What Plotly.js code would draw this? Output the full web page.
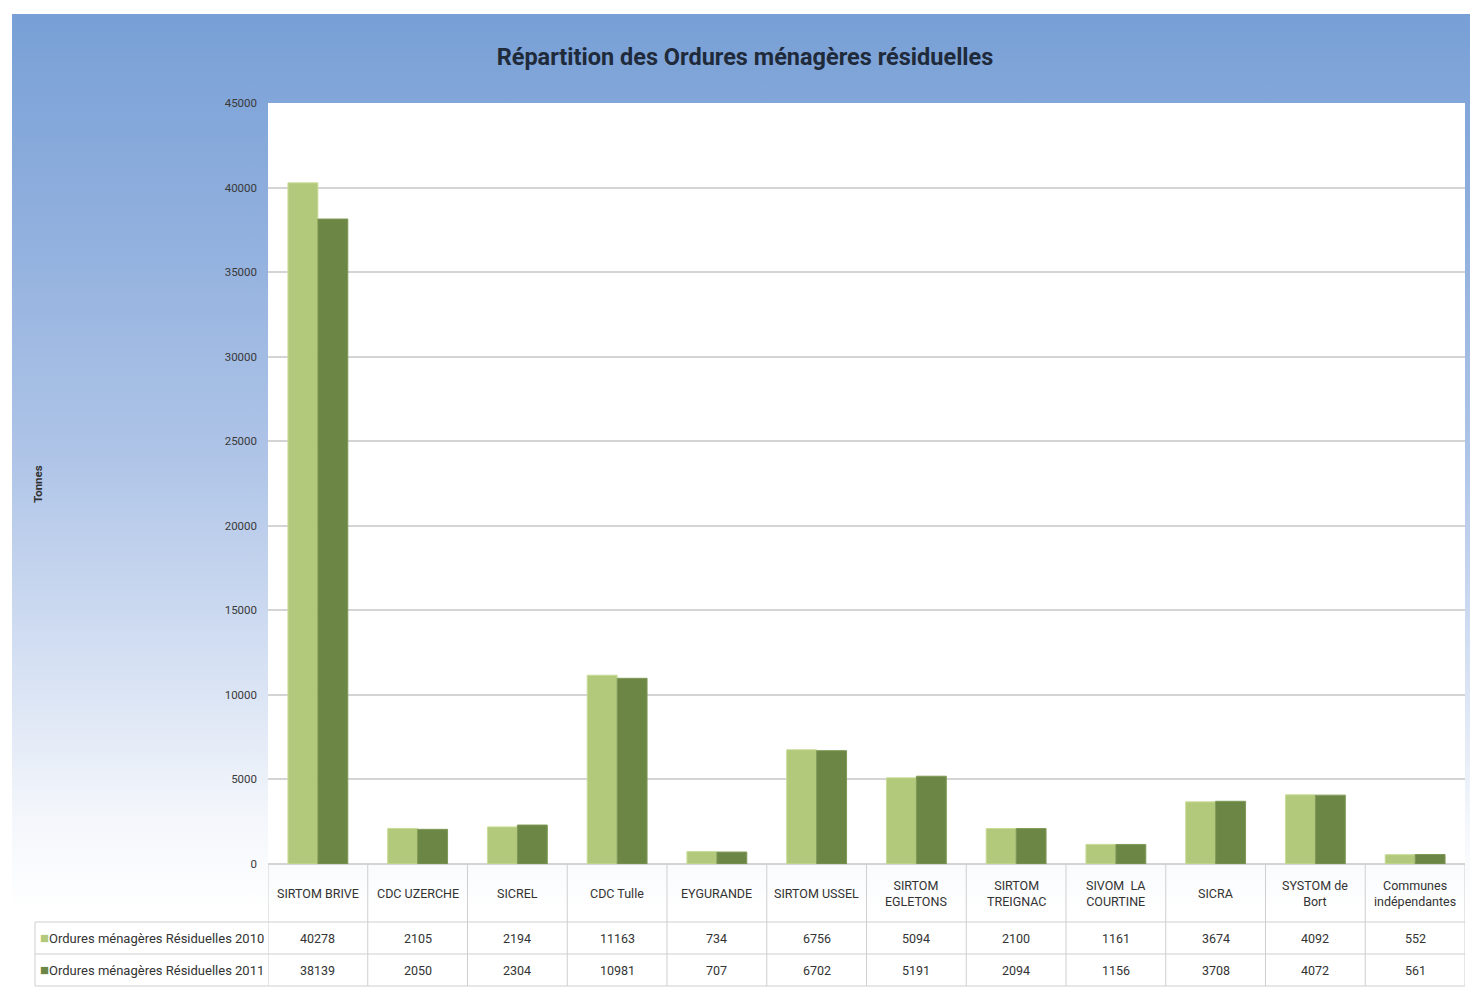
<!DOCTYPE html>
<html>
<head>
<meta charset="utf-8">
<script src="https://cdn.plot.ly/plotly-3.0.1.min.js"></script>
<style>
  body { margin: 0; background: #fff; }
  #chart {
    width: 1470px; height: 990px;
    background: linear-gradient(to bottom, #78a0d6 0%, #8eaedd 20%, #aec4e7 45%, #d2def2 65%, #f3f6fb 82%, #ffffff 92%) 12px 14px / 1458px 976px no-repeat, #fff;
  }
</style>
</head>
<body>
<div id="chart"></div>
<script>
const categories = ['SIRTOM BRIVE', 'CDC UZERCHE', 'SICREL', 'CDC Tulle', 'EYGURANDE', 'SIRTOM USSEL',
                    'SIRTOM<br>EGLETONS', 'SIRTOM<br>TREIGNAC', 'SIVOM  LA<br>COURTINE', 'SICRA', 'SYSTOM de<br>Bort', 'Communes<br>indépendantes'];
const omr2010 = [40278, 2105, 2194, 11163, 734, 6756, 5094, 2100, 1161, 3674, 4092, 552];
const omr2011 = [38139, 2050, 2304, 10981, 707, 6702, 5191, 2094, 1156, 3708, 4072, 561];
const seriesNames = ['Ordures ménagères Résiduelles 2010', 'Ordures ménagères Résiduelles 2011'];
const yTicks = [0, 5000, 10000, 15000, 20000, 25000, 30000, 35000, 40000, 45000];

const C_LIGHT = '#b2c97b';
const C_DARK  = '#6c8745';
const GRID    = '#d4d4d4';
const FONT    = 'Roboto, Liberation Sans Narrow, sans-serif';

// pixel helpers for the plot area (268..1465 x 103..864)
const PL = 268, PR = 1465, PT = 103, PB = 864;
const py = p => (PB - p) / (PB - PT);
const px = p => (p - PL) / (PR - PL);

const idx = categories.map((_, i) => i);

const traces = [
  { x: idx, y: omr2010, type: 'bar', name: seriesNames[0],
    marker: { color: C_LIGHT, line: { color: '#c9dc98', width: 1 } } },
  { x: idx, y: omr2011, type: 'bar', name: seriesNames[1],
    marker: { color: C_DARK, line: { color: '#7f9956', width: 1 } } }
];

const annotations = [];
// category row + values
categories.forEach((c, i) => {
  annotations.push({ x: i, y: py(893), xref: 'x', yref: 'paper', text: c, showarrow: false,
    font: { family: FONT, size: 12.5, color: '#333' }, xanchor: 'center', yanchor: 'middle' });
  annotations.push({ x: i, y: py(938), xref: 'x', yref: 'paper', text: String(omr2010[i]), showarrow: false,
    font: { family: FONT, size: 12.5, color: '#333' }, xanchor: 'center', yanchor: 'middle' });
  annotations.push({ x: i, y: py(970), xref: 'x', yref: 'paper', text: String(omr2011[i]), showarrow: false,
    font: { family: FONT, size: 12.5, color: '#333' }, xanchor: 'center', yanchor: 'middle' });
});
// row headers
[[938, C_LIGHT, seriesNames[0]], [970, C_DARK, seriesNames[1]]].forEach(([p, col, t]) => {
  annotations.push({ x: px(38), y: py(p), xref: 'paper', yref: 'paper', showarrow: false,
    text: `<span style="color:${col};font-size:15px">■</span>${t}`,
    font: { family: FONT, size: 13, color: '#333' }, xanchor: 'left', yanchor: 'middle' });
});
// y axis title
annotations.push({ x: px(38), y: py(484), xref: 'paper', yref: 'paper', showarrow: false,
  text: '<b>Tonnes</b>', textangle: -90, font: { family: FONT, size: 11.5, color: '#333' },
  xanchor: 'center', yanchor: 'middle' });

const shapes = [];
const line = { color: '#cfcfcf', width: 1 };
for (let i = 0; i <= categories.length; i++) {
  shapes.push({ type: 'line', xref: 'x', yref: 'paper', x0: i - 0.5, x1: i - 0.5, y0: 0, y1: py(986), line });
}
[922, 954, 986].forEach(p => {
  shapes.push({ type: 'line', xref: 'paper', yref: 'paper', x0: px(35), x1: 1, y0: py(p), y1: py(p), line });
});
shapes.push({ type: 'line', xref: 'paper', yref: 'paper', x0: px(35), x1: px(35), y0: py(922), y1: py(986), line });

const layout = {
  width: 1470, height: 990,
  margin: { l: PL, r: 1470 - PR, t: PT, b: 990 - PB },
  paper_bgcolor: 'rgba(0,0,0,0)',
  plot_bgcolor: '#ffffff',
  title: { text: '<b>Répartition des Ordures ménagères résiduelles</b>',
    font: { family: FONT, size: 23.5, color: '#1f2a3a' },
    x: 745 / 1470, xref: 'container', xanchor: 'center', y: 1 - 57 / 990, yref: 'container', yanchor: 'middle' },
  showlegend: false,
  barmode: 'group', bargap: 0.4, bargroupgap: 0,
  xaxis: { range: [-0.5, categories.length - 0.5], showticklabels: false, showgrid: false,
    zeroline: false, showline: false, ticks: '', fixedrange: true },
  yaxis: { range: [0, 45000], tickvals: yTicks, ticktext: yTicks.map(String),
    showgrid: true, gridcolor: GRID, gridwidth: 2, zeroline: true, zerolinecolor: GRID, zerolinewidth: 2,
    ticks: '', ticklabelstandoff: 10, showline: false,
    tickfont: { family: FONT, size: 11.5, color: '#3a3a3a' } },
  annotations, shapes
};

Plotly.newPlot('chart', traces, layout, { displayModeBar: false, staticPlot: true });
</script>
</body>
</html>
